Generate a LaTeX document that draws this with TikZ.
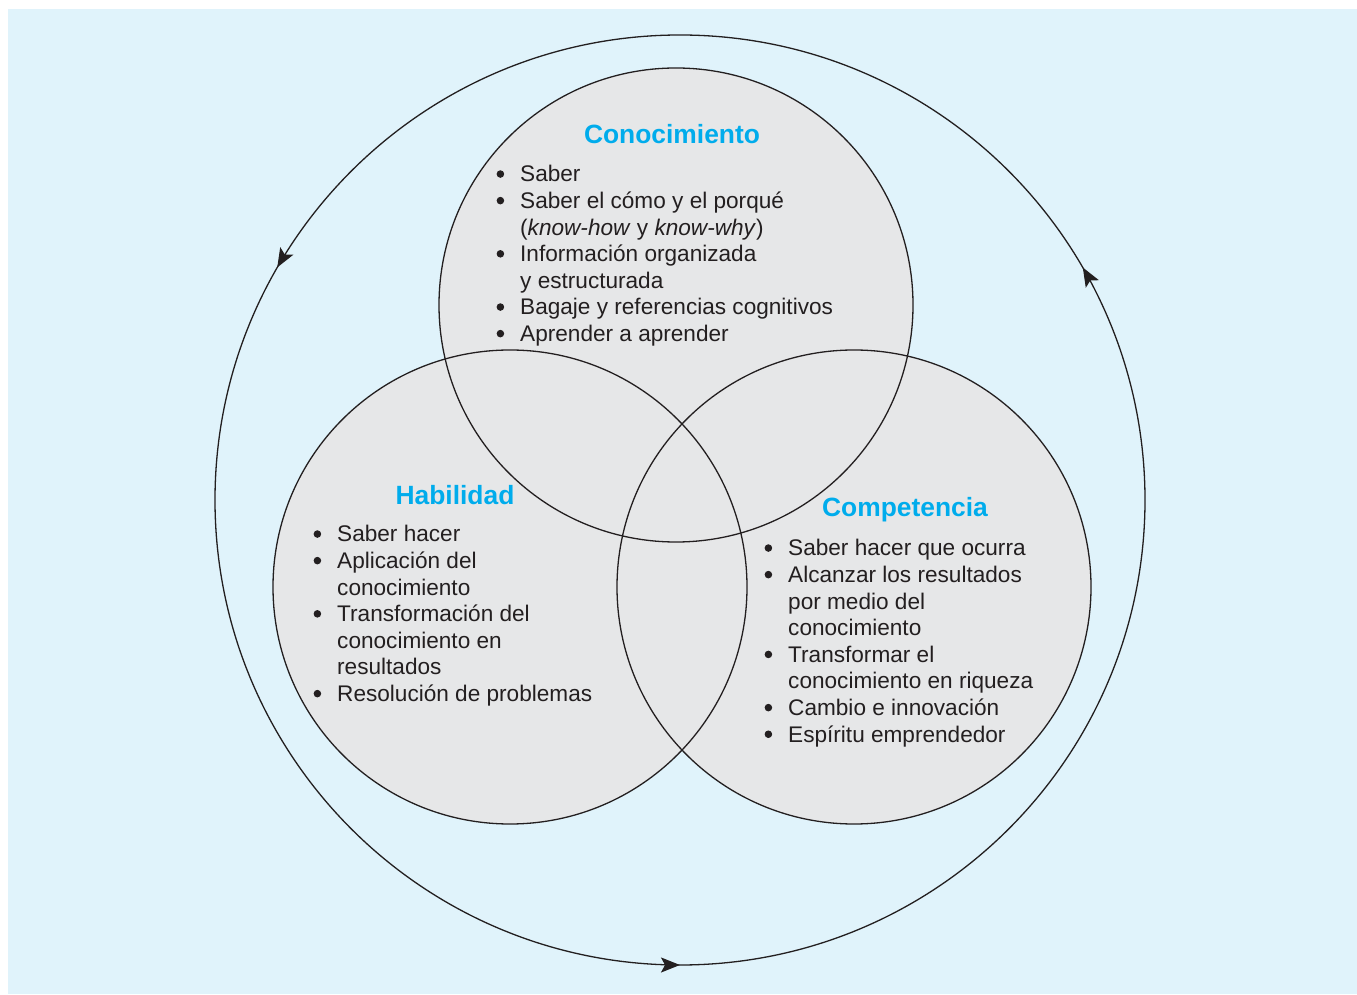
\documentclass[tikz,border=0pt]{standalone}
\usepackage{fontspec}
\setmainfont{Liberation Sans}
\newfontfamily\blfont{Liberation Sans}[FakeBold=4]
\usetikzlibrary{arrows.meta, decorations.markings}
\definecolor{SkyBack}{RGB}{224, 243, 251}
\definecolor{DiscGray}{RGB}{230, 231, 232}
\definecolor{HeadCyan}{RGB}{0, 172, 236}
\definecolor{InkDark}{RGB}{35, 31, 32}
\newcommand{\itm}{\makebox[24pt][l]{{\blfont\fontsize{24}{26.6}\selectfont\textbullet}}}
\newcommand{\cnt}{\hspace*{24pt}}
\newcommand{\bulletblock}[1]{\parbox[t]{380pt}{\fontsize{22.6}{26.6}\selectfont #1}}

\begin{document}
\begin{tikzpicture}[x=1pt, y=1pt,
            venn/.style={fill=DiscGray},
            ring/.style={draw=InkDark, line width=1.3pt},
            headline/.style={font=\fontsize{26.4}{30}\selectfont\bfseries, text=HeadCyan, anchor=base, inner sep=0pt},
            bulletlist/.style={anchor=base west, inner sep=0pt, text=InkDark},
            cycle/.style={ring, postaction={decorate}, decoration={markings,
                mark=at position 1/12 with {\arrow{Stealth[length=19pt, width=15pt, inset=4pt]}},
                mark=at position 5/12 with {\arrow{Stealth[length=19pt, width=15pt, inset=4pt]}},
                mark=at position 9/12 with {\arrow{Stealth[length=19pt, width=15pt, inset=4pt]}}}}
        ]
            \useasboundingbox (0,0) rectangle (1357,994);
            \fill[SkyBack] (8,0) rectangle (1357,985);

            % Outer cycle with arrows
            \coordinate (hub) at (680,494);
            \draw[cycle] (hub) circle[radius=465pt];

            % The three discs
            \coordinate (know) at (676,689);
            \coordinate (skill) at (510,407);
            \coordinate (comp) at (854,407);
            \foreach \c in {know, skill, comp}
                \fill[venn] (\c) circle[radius=237pt];
            \foreach \c in {know, skill, comp}
                \draw[ring] (\c) circle[radius=237pt];

            % Conocimiento
            \node[headline] (knowtitle) at (672,850) {Conocimiento};
            \node[bulletlist] (knowlist) at (496,812) {\bulletblock{%
                \itm Saber\\
                \itm Saber el cómo y el porqué\\
                \cnt (\textit{know-how} y \textit{know-why})\\
                \itm Información organizada\\
                \cnt y estructurada\\
                \itm Bagaje y referencias cognitivos\\
                \itm Aprender a aprender}};

            % Habilidad
            \node[headline] (skilltitle) at (455,489) {Habilidad};
            \node[bulletlist] (skilllist) at (313,452) {\bulletblock{%
                \itm Saber hacer\\
                \itm Aplicación del\\
                \cnt conocimiento\\
                \itm Transformación del\\
                \cnt conocimiento en\\
                \cnt resultados\\
                \itm Resolución de problemas}};

            % Competencia
            \node[headline] (comptitle) at (905,477) {Competencia};
            \node[bulletlist] (complist) at (764,438) {\bulletblock{%
                \itm Saber hacer que ocurra\\
                \itm Alcanzar los resultados\\
                \cnt por medio del\\
                \cnt conocimiento\\
                \itm Transformar el\\
                \cnt conocimiento en riqueza\\
                \itm Cambio e innovación\\
                \itm Espíritu emprendedor}};
        \end{tikzpicture}
\end{document}
